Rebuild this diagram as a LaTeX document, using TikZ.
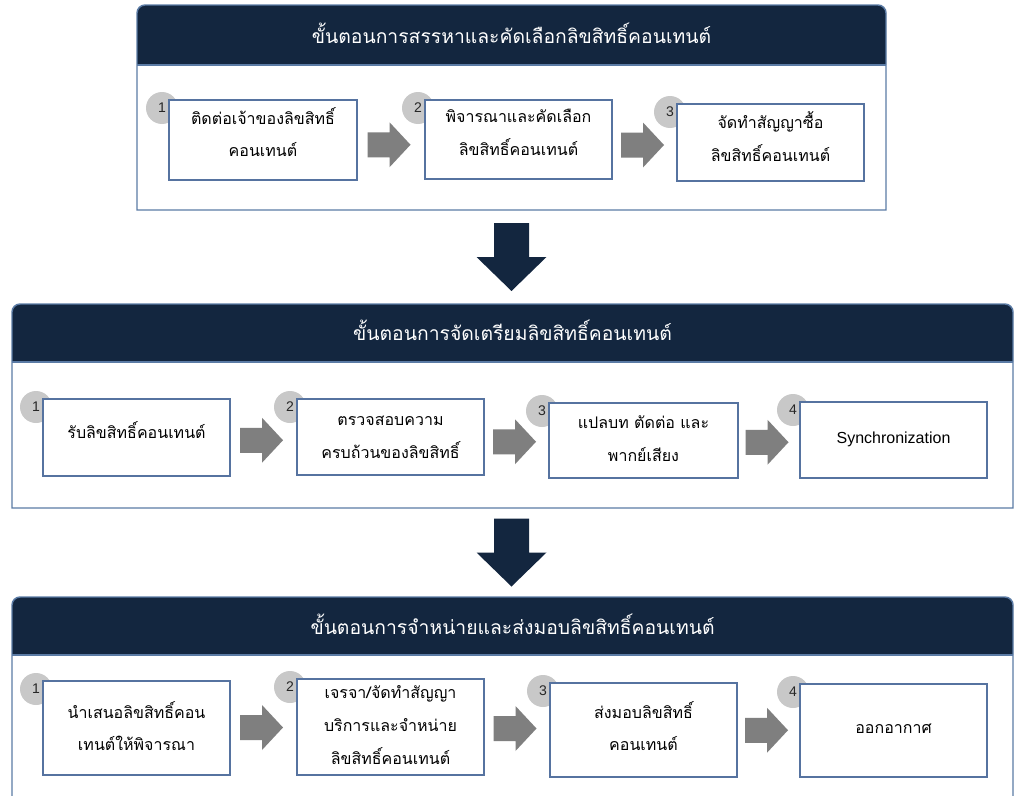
\documentclass[tikz,border=0pt]{standalone}
\usepackage{fontspec}
\setmainfont{Liberation Sans}
\newfontfamily\thaifont[Script=Thai]{Loma}
\usetikzlibrary{calc}
\definecolor{navy}{HTML}{13263F}
\definecolor{panelline}{HTML}{5B7BA5}
\definecolor{boxline}{HTML}{5673A0}
\definecolor{arrowgray}{HTML}{7F7F7F}
\definecolor{circgray}{HTML}{C8C8C8}
\newcommand\stepnode[8]{%
  \node[numcirc] (#1n) at ({#2-7},{#3+8}) {#7};
  \node[stepbox, minimum width={(#4-#2)*0.75pt}, minimum height={(#5-#3)*0.75pt}] (#1) at ({(#2+#4)/2},{(#3+#5)/2}) {};
  \node[steptext] (#1t) at ($(#1.center)+(0,#8)$) {#6};}
\newcommand\panelshape[5]{%
  \fill[navy] (#1,#5) -- (#1,{#2+8}) arc[start angle=180,end angle=270,radius=8] -- ({#3-8},#2) arc[start angle=270,end angle=360,radius=8] -- (#3,#5) -- cycle;
  \draw[panelline, line width=1.1pt] (#1,#4) -- (#1,{#2+8}) arc[start angle=180,end angle=270,radius=8] -- ({#3-8},#2) arc[start angle=270,end angle=360,radius=8] -- (#3,#4) -- cycle;
  \draw[panelline, line width=1.1pt] (#1,#5) -- (#3,#5);}
\begin{document}
\begin{tikzpicture}[x=0.75pt,y=-0.75pt,
  stepbox/.style={draw=boxline, line width=1pt, fill=white, inner sep=0pt},
  steptext/.style={align=center, inner sep=0pt, font=\thaifont\fontsize{12}{24.5}\selectfont, text=black},
  numcirc/.style={circle, fill=circgray, minimum size=24pt, inner sep=0pt, font=\fontsize{10.5}{12}\selectfont, text=black!85},
  titletext/.style={text=white, font=\thaifont\fontsize{14.5}{18}\selectfont},
  harrow/.pic={\fill[arrowgray] (-21.5,-12.5) -- (0.5,-12.5) -- (0.5,-22.5) -- (21.5,0) -- (0.5,22.5) -- (0.5,12.5) -- (-21.5,12.5) -- cycle;},
  varrow/.pic={\fill[navy] (-17.5,-34) -- (17.5,-34) -- (17.5,0) -- (35,0) -- (0,34) -- (-35,0) -- (-17.5,0) -- cycle;}
]
\useasboundingbox (0,0) rectangle (1022,796);
\clip (0,0) rectangle (1022,796);
\fill[white] (0,0) rectangle (1022,796);

% Panel 1
\panelshape{137}{5}{886}{210}{65}
\node[titletext] (h1) at (511.5,33) {ขั้นตอนการสรรหาและคัดเลือกลิขสิทธิ์คอนเทนต์};
\stepnode{b11}{169}{100}{357}{180}{ติดต่อเจ้าของลิขสิทธิ์\\คอนเทนต์}{1}{-8}
\stepnode{b12}{425}{100}{612}{179}{พิจารณาและคัดเลือก\\ลิขสิทธิ์คอนเทนต์}{2}{-7}
\stepnode{b13}{677}{104}{864}{181}{จัดทำสัญญาซื้อ\\ลิขสิทธิ์คอนเทนต์}{3}{-6}
\pic at ($($(b11.east)!0.5!(b12.west)$)+(-2,5)$) {harrow};
\pic at ($($(b12.east)!0.5!(b13.west)$)+(-2,4)$) {harrow};

% Panel 2
\panelshape{12}{304}{1013}{508}{362}
\node[titletext] (h2) at (512.5,330) {ขั้นตอนการจัดเตรียมลิขสิทธิ์คอนเทนต์};
\stepnode{b21}{43}{399}{230}{476}{รับลิขสิทธิ์คอนเทนต์}{1}{-7}
\stepnode{b22}{297}{399}{484}{475}{ตรวจสอบความ\\ครบถ้วนของลิขสิทธิ์}{2}{0}
\stepnode{b23}{549}{403}{738}{478}{แปลบท ตัดต่อ และ\\พากย์เสียง}{3}{-2}
\stepnode{b24}{800}{402}{987}{478}{\rmfamily Synchronization}{4}{-1}
\pic at ($($(b21.east)!0.5!(b22.west)$)+(-2,3)$) {harrow};
\pic at ($($(b22.east)!0.5!(b23.west)$)+(-2,3)$) {harrow};
\pic at ($($(b23.east)!0.5!(b24.west)$)+(-2,2)$) {harrow};

% Panel 3
\panelshape{12}{597}{1013}{820}{655}
\node[titletext] (h3) at (512.5,624) {ขั้นตอนการจำหน่ายและส่งมอบลิขสิทธิ์คอนเทนต์};
\stepnode{b31}{43}{681}{230}{775}{นำเสนอลิขสิทธิ์คอน\\เทนต์ให้พิจารณา}{1}{-2}
\stepnode{b32}{297}{679}{484}{775}{เจรจา/จัดทำสัญญา\\บริการและจำหน่าย\\ลิขสิทธิ์คอนเทนต์}{2}{-2}
\stepnode{b33}{550}{683}{737}{777}{ส่งมอบลิขสิทธิ์\\คอนเทนต์}{3}{-4}
\stepnode{b34}{800}{684}{987}{777}{ออกอากาศ}{4}{-2}
\pic at ($($(b31.east)!0.5!(b32.west)$)+(-2,0)$) {harrow};
\pic at ($($(b32.east)!0.5!(b33.west)$)+(-2,0)$) {harrow};
\pic at ($($(b33.east)!0.5!(b34.west)$)+(-2,0)$) {harrow};

% Down arrows between panels
\coordinate (p1s) at (511.5,210);
\coordinate (p2n) at (511.5,304);
\coordinate (p2s) at (511.5,508);
\coordinate (p3n) at (511.5,597);
\pic at ($(p1s)!0.5!(p2n)$) {varrow};
\pic at ($(p2s)!0.5!(p3n)$) {varrow};
\end{tikzpicture}
\end{document}
